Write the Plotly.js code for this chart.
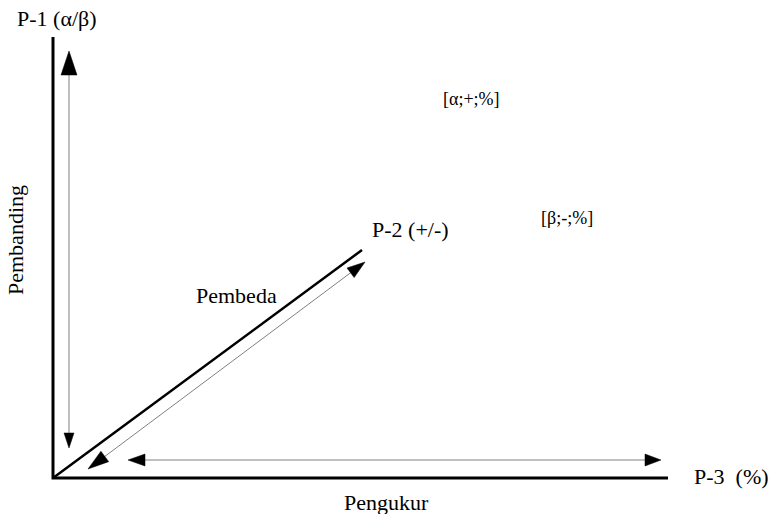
<!DOCTYPE html>
<html>
<head>
<meta charset="utf-8">
<script src="https://cdn.plot.ly/plotly-3.0.1.min.js"></script>
<style>html,body{margin:0;padding:0;background:#fff;}#chart{width:771px;height:514px;}</style>
</head>
<body>
<div id="chart"></div>
<script>
// Diagram geometry (chart units, origin top-left)
var axisFrameX = [53, 53, 668];
var axisFrameY = [37, 478, 478];
var diagonalX = [53, 362];
var diagonalY = [478, 250];

// Double-headed arrows: [x, y]
var arrowNames = ["Pembanding", "Pembeda", "Pengukur"];
var arrowStart = [[69, 448], [88, 469], [128, 460]];
var arrowEnd = [[69, 51], [365, 262], [661, 460]];
var headStart = [[15, 10], [21, 13], [17, 12]];
var headEnd = [[24, 16], [18, 12], [16, 12]];

// Labels
var labelText = ["P-1 (α/β)", "P-2 (+/-)", "Pembeda", "[α;+;%]", "[β;-;%]", "P-3&nbsp;&nbsp;(%)", "Pengukur"];
var labelX = [57, 410, 236, 471, 567, 731, 386];
var labelY = [18, 229, 295, 99, 218, 476, 502];
var labelSize = [22, 22, 22, 18, 18, 22, 22];
var sideLabel = "Pembanding";

var serif = "Liberation Serif";

var traces = [];
traces.push({x: axisFrameX, y: axisFrameY, mode: "lines", line: {color: "#000", width: 3}, hoverinfo: "skip"});
traces.push({x: diagonalX, y: diagonalY, mode: "lines", line: {color: "#000", width: 2.5}, hoverinfo: "skip"});

function head(tip, from, size) {
  var dx = tip[0] - from[0], dy = tip[1] - from[1];
  var L = Math.sqrt(dx * dx + dy * dy);
  var ux = dx / L, uy = dy / L;
  var bx = tip[0] - ux * size[0], by = tip[1] - uy * size[0];
  var px = -uy * size[1] / 2, py = ux * size[1] / 2;
  return {x: [tip[0], bx + px, bx - px, tip[0]], y: [tip[1], by + py, by - py, tip[1]]};
}

for (var i = 0; i < arrowStart.length; i++) {
  var s = arrowStart[i], e = arrowEnd[i];
  var h1 = head(s, e, headStart[i]);
  var h2 = head(e, s, headEnd[i]);
  var dx = e[0] - s[0], dy = e[1] - s[1];
  var L = Math.sqrt(dx * dx + dy * dy);
  var ux = dx / L, uy = dy / L;
  traces.push({x: [s[0] + ux * headStart[i][0] * 0.8, e[0] - ux * headEnd[i][0] * 0.8],
               y: [s[1] + uy * headStart[i][0] * 0.8, e[1] - uy * headEnd[i][0] * 0.8],
               mode: "lines", line: {color: "#808080", width: 1}, hoverinfo: "skip", name: arrowNames[i]});
  traces.push({x: h1.x, y: h1.y, mode: "lines", fill: "toself", fillcolor: "#000", line: {color: "#000", width: 0.5}, hoverinfo: "skip"});
  traces.push({x: h2.x, y: h2.y, mode: "lines", fill: "toself", fillcolor: "#000", line: {color: "#000", width: 0.5}, hoverinfo: "skip"});
}

var annotations = [];
for (var j = 0; j < labelText.length; j++) {
  annotations.push({x: labelX[j], y: labelY[j], xref: "x", yref: "y", text: labelText[j], showarrow: false,
    font: {family: serif, size: labelSize[j], color: "#000"},
    xanchor: "center", yanchor: "middle"});
}
annotations.push({x: 15, y: 240, xref: "x", yref: "y", text: sideLabel, showarrow: false, textangle: -90,
  font: {family: serif, size: 22, color: "#000"},
  xanchor: "center", yanchor: "middle"});

var layout = {
  width: 771, height: 514,
  margin: {l: 0, r: 0, t: 0, b: 0},
  paper_bgcolor: "#fff", plot_bgcolor: "#fff",
  showlegend: false,
  font: {family: serif},
  xaxis: {range: [0, 771], visible: false, fixedrange: true},
  yaxis: {range: [514, 0], visible: false, fixedrange: true},
  annotations: annotations
};
Plotly.newPlot("chart", traces, layout, {staticPlot: true});
</script>
</body>
</html>
